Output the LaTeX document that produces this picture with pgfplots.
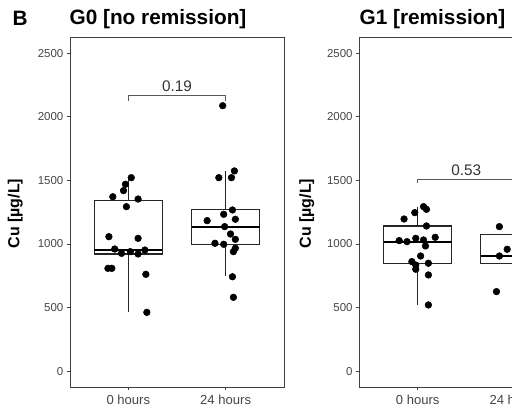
\documentclass[border=0pt]{standalone}
\usepackage{fontspec}
\setmainfont{Liberation Sans}
\usepackage{pgfplots}
\pgfplotsset{compat=1.18}
\definecolor{framecol}{rgb}{0.25,0.25,0.25}
\definecolor{ticktxt}{rgb}{0.27,0.27,0.27}
\definecolor{brk}{rgb}{0.35,0.35,0.35}
\pgfplotsset{
  panel/.style={
    scale only axis, width=160.5pt, height=262.3pt,
    xmin=0.4, xmax=2.6, ymin=-125, ymax=2625,
    xtick={1,2}, xticklabels={0 hours,24 hours},
    ytick={0,500,1000,1500,2000,2500},
    xtick pos=left, ytick pos=left,
    tick align=outside, major tick length=2.5pt,
    every tick/.style={framecol, line width=0.6pt},
    axis line style={framecol, line width=0.7pt},
    /pgf/number format/assume math mode=true,
    /pgf/number format/1000 sep={},
    yticklabel style={font=\fontsize{8.6}{10}\selectfont, text=ticktxt, xshift=1pt},
    xticklabel style={font=\fontsize{9.8}{11}\selectfont, text=ticktxt},
    clip=false,
  },
  bxl/.style={draw=black!85, line width=0.8pt, mark=none},
  bxf/.style={draw=black!85, fill=white, line width=0.8pt, mark=none},
  med/.style={draw=black, line width=1.5pt, mark=none},
  pts/.style={only marks, mark=*, mark size=2.5pt, black, mark options={fill=black, draw=black}},
  brkt/.style={brk, line width=0.65pt, mark=none},
}
\begin{document}
\begin{tikzpicture}
\path[use as bounding box] (0,0) rectangle (384pt,305.25pt);
\clip (0,0) rectangle (384pt,305.25pt);
\node[anchor=west, font=\bfseries\fontsize{15.6}{17}\selectfont] at (6pt,291.5pt) {B};
\node[anchor=west, font=\bfseries\fontsize{15.6}{17}\selectfont, inner sep=0pt] at (52pt,291pt) {G0 [no remission]};
\node[anchor=west, font=\bfseries\fontsize{15.6}{17}\selectfont, inner sep=0pt] at (269.5pt,291pt) {G1 [remission]};
\node[rotate=90, font=\bfseries\fontsize{12}{14}\selectfont] at (11.5pt,145pt) {Cu [µg/L]};
\node[rotate=90, font=\bfseries\fontsize{12}{14}\selectfont] at (230pt,145pt) {Cu [µg/L]};

\begin{axis}[panel, at={(52.5pt,15pt)}, anchor=south west]
% 0 hours: whiskers, box, median
\addplot[bxl] coordinates {(1,1345) (1,1521)};
\addplot[bxl] coordinates {(1,921) (1,462)};
\addplot[bxf] coordinates {(0.65,921) (1.35,921) (1.35,1345) (0.65,1345)} -- cycle;
\addplot[med] coordinates {(0.65,952) (1.35,952)};
% 24 hours
\addplot[bxl] coordinates {(2,1267) (2,1574)};
\addplot[bxl] coordinates {(2,997) (2,745)};
\addplot[bxf] coordinates {(1.65,997) (2.35,997) (2.35,1267) (1.65,1267)} -- cycle;
\addplot[med] coordinates {(1.65,1136) (2.35,1136)};
\addplot[pts] coordinates {
(1.03,1521) (0.97,1469) (0.95,1419) (0.84,1371) (1.10,1353) (0.98,1293)
(0.80,1057) (1.10,1044) (0.86,960) (0.93,926) (1.02,939) (1.10,921)
(1.17,952) (0.79,808) (0.83,808) (1.18,761) (1.19,462)
};
\addplot[pts] coordinates {
(2.09,1574) (1.93,1521) (2.06,1521) (2.07,1267) (1.98,1233) (2.10,1194)
(1.81,1183) (1.99,1136) (2.05,1078) (2.10,1036) (1.89,1005) (1.98,997)
(2.10,966) (2.08,939) (2.07,742) (2.08,580) (1.97,2087)
};
\addplot[brkt] coordinates {(1,2125) (1,2168) (2,2168) (2,2125)};
\node[font=\fontsize{11.5}{13}\selectfont, text=black!80, anchor=base] at (axis cs:1.5,2195) {0.19};
\end{axis}

\begin{axis}[panel, at={(269.5pt,15pt)}, anchor=south west]
\addplot[bxl] coordinates {(1,1141) (1,1293)};
\addplot[bxl] coordinates {(1,848) (1,520)};
\addplot[bxf] coordinates {(0.65,848) (1.35,848) (1.35,1141) (0.65,1141)} -- cycle;
\addplot[med] coordinates {(0.65,1013) (1.35,1013)};
\addplot[bxl] coordinates {(2,1076) (2,1136)};
\addplot[bxl] coordinates {(2,848) (2,625)};
\addplot[bxf] coordinates {(1.65,848) (2.35,848) (2.35,1076) (1.65,1076)} -- cycle;
\addplot[med] coordinates {(1.65,905) (2.35,905)};
\addplot[pts] coordinates {
(1.06,1293) (1.09,1272) (0.97,1246) (0.86,1196) (1.09,1141) (0.81,1026)
(0.89,1018) (0.98,1044) (1.06,1031) (1.18,1052) (1.08,984) (1.03,905)
(0.94,861) (0.98,834) (1.11,848) (0.98,801) (1.11,756) (1.11,520)
};
\addplot[pts] coordinates {
(1.84,1136) (1.84,905) (1.92,958) (1.81,625) (2.05,1000) (2.12,880)
};
\addplot[brkt] coordinates {(1,1480) (1,1511) (2,1511) (2,1480)};
\node[font=\fontsize{11.5}{13}\selectfont, text=black!80, anchor=base] at (axis cs:1.5,1535) {0.53};
\end{axis}
\end{tikzpicture}
\end{document}
